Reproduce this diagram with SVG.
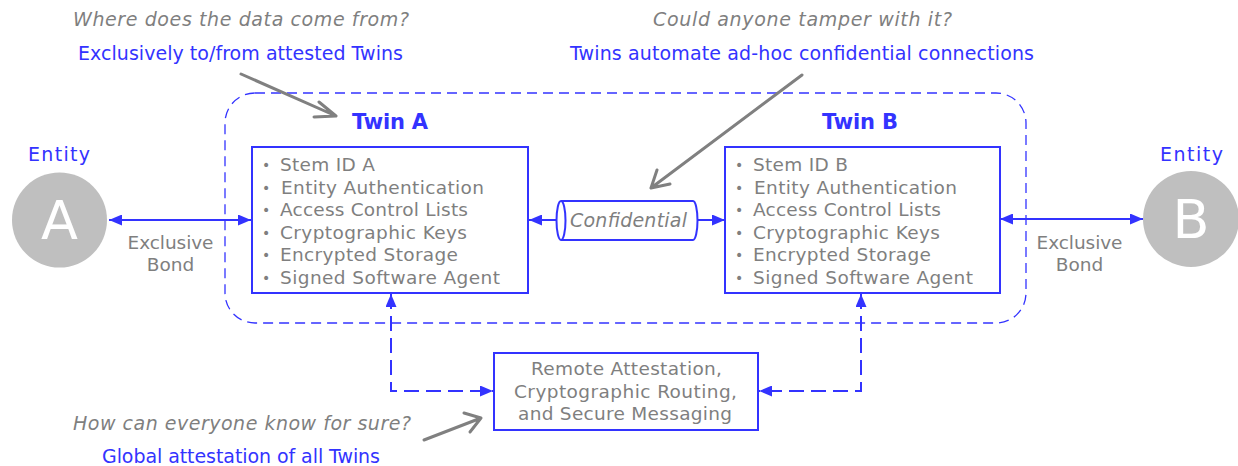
<svg xmlns="http://www.w3.org/2000/svg" width="1238" height="466" viewBox="0 0 1238 466">
<defs>
<style>
text{font-family:"DejaVu Sans","Liberation Sans",sans-serif;}
.q{font-style:italic;fill:#7f7f7f;font-size:19px;}
.a{fill:#3333ff;font-size:19px;}
.t{fill:#3333ff;font-size:21px;font-weight:bold;}
.li{fill:#7f7f7f;font-size:18.5px;}
.b{fill:#7f7f7f;font-size:14px;}
.g{fill:#7f7f7f;font-size:18.5px;}
.box{fill:#fff;stroke:#3333ff;stroke-width:2;}
.ent{fill:#bfbfbf;}
.letter{fill:#fff;font-size:54px;}
.conn{stroke:#3333ff;stroke-width:2;fill:none;}
.dash{stroke-dasharray:15 7;}
.gray{stroke:#808080;stroke-width:3;fill:none;stroke-linecap:round;stroke-linejoin:round;}
</style>
<marker id="ah" viewBox="0 0 13 11" refX="13" refY="5.5" markerWidth="13" markerHeight="11" markerUnits="userSpaceOnUse" orient="auto-start-reverse">
<path d="M0,0 L13,5.5 L0,11 Z" fill="#3333ff"/>
</marker>
</defs>

<g id="titles">
<text class="q" x="73" y="26" textLength="336">Where does the data come from?</text>
<text class="a" x="78" y="60" textLength="325">Exclusively to/from attested Twins</text>
<text class="q" x="653" y="26" textLength="299">Could anyone tamper with it?</text>
<text class="a" x="570" y="60" textLength="464">Twins automate ad-hoc confidential connections</text>
<text class="q" x="73" y="430" textLength="338">How can everyone know for sure?</text>
<text class="a" x="102" y="463" textLength="278">Global attestation of all Twins</text>
</g>

<g id="enclave">
<rect x="225" y="93" width="801" height="230" rx="30" ry="30" fill="none" stroke="#3333ff" stroke-width="1.3" stroke-dasharray="10 6"/>
</g>

<g id="connectors">
<line class="conn" x1="109" y1="220" x2="251" y2="220" marker-start="url(#ah)" marker-end="url(#ah)"/>
<line class="conn" x1="1000" y1="219" x2="1143" y2="219" marker-start="url(#ah)" marker-end="url(#ah)"/>
<line class="conn" x1="529" y1="220" x2="557" y2="220" marker-start="url(#ah)"/>
<line class="conn" x1="697" y1="220" x2="725" y2="220" marker-end="url(#ah)"/>
<polyline class="conn dash" points="391,294 391,391 493,391" marker-start="url(#ah)" marker-end="url(#ah)"/>
<polyline class="conn dash" points="861,294 861,391 759,391" marker-start="url(#ah)" marker-end="url(#ah)"/>
<path class="gray" d="M241,74 L336,116 M319,102 L336,116 L314,117"/>
<path class="gray" d="M802,75 L651,188 M657,170 L651,188 L670,184"/>
<path class="gray" d="M424,440 L481,418 M464,413 L481,418 L470,432"/>
</g>

<g id="entityA">
<text class="a" x="28" y="161" font-size="22" textLength="62">Entity</text>
<circle class="ent" cx="59.5" cy="220" r="47.5"/>
<text class="letter" x="59.5" y="239" text-anchor="middle">A</text>
<text class="g" x="127.5" y="249" textLength="86">Exclusive</text>
<text class="g" x="170.5" y="271" text-anchor="middle">Bond</text>
</g>

<g id="entityB">
<text class="a" x="1160" y="161" font-size="22" textLength="63">Entity</text>
<circle class="ent" cx="1191" cy="219" r="48"/>
<text class="letter" x="1191" y="238" text-anchor="middle">B</text>
<text class="g" x="1036.5" y="249" textLength="86">Exclusive</text>
<text class="g" x="1079.5" y="271" text-anchor="middle">Bond</text>
</g>

<g id="twinA">
<text class="t" x="352" y="129" textLength="76">Twin A</text>
<rect class="box" x="252" y="147" width="276" height="146"/>
<text class="b" x="262" y="170">•</text><text class="li" x="280" y="171" textLength="95">Stem ID A</text>
<text class="b" x="262" y="192.5">•</text><text class="li" x="281" y="193.5" textLength="203">Entity Authentication</text>
<text class="b" x="262" y="215">•</text><text class="li" x="280" y="216" textLength="188">Access Control Lists</text>
<text class="b" x="262" y="237.5">•</text><text class="li" x="280" y="238.5" textLength="187">Cryptographic Keys</text>
<text class="b" x="262" y="260">•</text><text class="li" x="280" y="261" textLength="178">Encrypted Storage</text>
<text class="b" x="262" y="282.5">•</text><text class="li" x="280" y="283.5" textLength="220">Signed Software Agent</text>
</g>

<g id="twinB">
<text class="t" x="822" y="129" textLength="76">Twin B</text>
<rect class="box" x="725" y="147" width="275" height="146"/>
<text class="b" x="735" y="170">•</text><text class="li" x="753" y="171" textLength="95">Stem ID B</text>
<text class="b" x="735" y="192.5">•</text><text class="li" x="754" y="193.5" textLength="203">Entity Authentication</text>
<text class="b" x="735" y="215">•</text><text class="li" x="753" y="216" textLength="188">Access Control Lists</text>
<text class="b" x="735" y="237.5">•</text><text class="li" x="753" y="238.5" textLength="187">Cryptographic Keys</text>
<text class="b" x="735" y="260">•</text><text class="li" x="753" y="261" textLength="178">Encrypted Storage</text>
<text class="b" x="735" y="282.5">•</text><text class="li" x="753" y="283.5" textLength="220">Signed Software Agent</text>
</g>

<g id="confidential">
<path d="M561,201 H693 A4.5,19.5 0 0 1 693,240 H561 A4.5,19.5 0 0 1 561,201 Z" fill="#fff" stroke="#3333ff" stroke-width="2"/>
<path d="M561,201 A4.5,19.5 0 0 1 561,240" fill="none" stroke="#3333ff" stroke-width="2"/>
<text class="q" x="570" y="227" font-size="18" textLength="117">Confidential</text>
</g>

<g id="attestation">
<rect class="box" x="494" y="353" width="264" height="77"/>
<text class="g" x="531" y="375" textLength="191">Remote Attestation,</text>
<text class="g" x="514" y="397.5" textLength="223">Cryptographic Routing,</text>
<text class="g" x="518" y="420" textLength="214">and Secure Messaging</text>
</g>
</svg>
